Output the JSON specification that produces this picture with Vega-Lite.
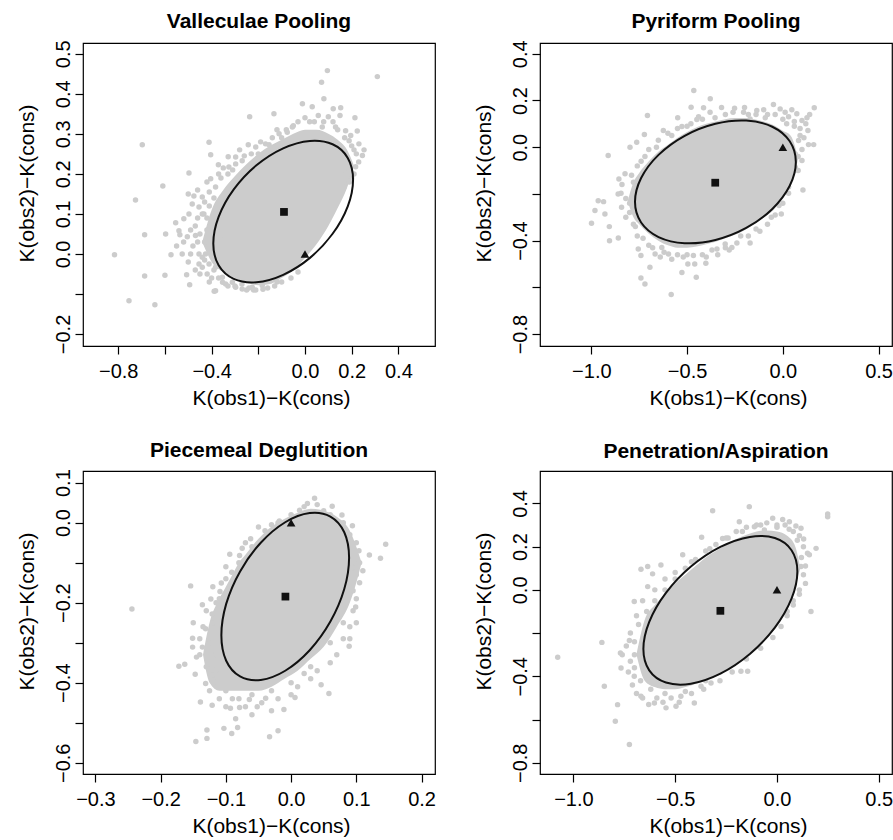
{
  "$schema": "https://vega.github.io/schema/vega-lite/v6.json",
  "background": "white",
  "padding": {"left": 15, "top": 10, "right": 5, "bottom": 0},
  "columns": 2,
  "spacing": {"row": 125, "column": 105},
  "bounds": "flush",
  "config": {
    "font": "Liberation Sans",
    "view": {"stroke": "#000000", "strokeWidth": 1.2},
    "axis": {"grid": false, "domain": false, "ticks": true, "tickColor": "#000000", "tickSize": 8, "tickWidth": 1.2,
      "labelColor": "#000000", "labelFont": "Liberation Sans", "labelFontSize": 20,
      "titleFont": "Liberation Sans", "titleFontSize": 21, "titleFontWeight": "normal", "titleColor": "#000000",
      "labelOverlap": false, "labelFlush": false, "labelBound": false},
    "axisX": {"labelBaseline": "alphabetic", "labelPadding": 23, "titleY": 58, "titleX": 188, "titleAlign": "center", "titleBaseline": "alphabetic"},
    "axisY": {"labelAngle": -90, "labelAlign": "center", "labelBaseline": "alphabetic", "labelPadding": 6, "titleX": -50, "titleY": 140, "titleAlign": "center", "titleBaseline": "alphabetic", "titleAngle": -90},
    "title": {"font": "Liberation Sans", "fontSize": 21, "fontWeight": "bold", "color": "#000000", "anchor": "middle", "frame": "group", "baseline": "alphabetic"}
  },
  "datasets": {
    "core1": [
      {"x": -0.44, "lo": 0.03, "hi": 0.03}, {"x": -0.40, "lo": -0.02, "hi": 0.11}, {"x": -0.35, "lo": -0.045, "hi": 0.16},
      {"x": -0.30, "lo": -0.06, "hi": 0.195}, {"x": -0.25, "lo": -0.072, "hi": 0.225}, {"x": -0.20, "lo": -0.078, "hi": 0.25},
      {"x": -0.15, "lo": -0.075, "hi": 0.27}, {"x": -0.10, "lo": -0.06, "hi": 0.285}, {"x": -0.05, "lo": -0.04, "hi": 0.30},
      {"x": 0.00, "lo": -0.01, "hi": 0.31}, {"x": 0.05, "lo": 0.025, "hi": 0.31}, {"x": 0.10, "lo": 0.07, "hi": 0.30},
      {"x": 0.14, "lo": 0.115, "hi": 0.285}, {"x": 0.18, "lo": 0.165, "hi": 0.26}, {"x": 0.21, "lo": 0.22, "hi": 0.22}
    ],
    "pts1": [
      {"x": -0.816, "y": -0.002}, {"x": -0.754, "y": -0.117}, {"x": -0.726, "y": 0.135}, {"x": -0.697, "y": 0.273}, {"x": -0.687, "y": 0.048},
      {"x": -0.687, "y": -0.055}, {"x": -0.643, "y": -0.127}, {"x": -0.609, "y": 0.17}, {"x": -0.6, "y": -0.053}, {"x": -0.597, "y": 0.05},
      {"x": -0.574, "y": -0.002}, {"x": -0.554, "y": 0.078}, {"x": -0.536, "y": 0.048}, {"x": -0.507, "y": -0.052}, {"x": -0.497, "y": 0.202},
      {"x": -0.494, "y": -0.077}, {"x": -0.476, "y": 0.145}, {"x": -0.469, "y": 0.046}, {"x": -0.44, "y": -0.033}, {"x": -0.433, "y": 0.1},
      {"x": -0.411, "y": 0.279}, {"x": -0.404, "y": 0.188}, {"x": -0.404, "y": 0.248}, {"x": -0.389, "y": -0.093}, {"x": -0.383, "y": 0.0},
      {"x": -0.243, "y": 0.273}, {"x": -0.237, "y": 0.343}, {"x": -0.133, "y": 0.35}, {"x": -0.2, "y": 0.25}, {"x": -0.25, "y": -0.09},
      {"x": -0.211, "y": -0.09}, {"x": -0.353, "y": -0.071}, {"x": -0.011, "y": 0.375}, {"x": 0.031, "y": 0.368}, {"x": 0.096, "y": 0.458},
      {"x": 0.071, "y": 0.429}, {"x": 0.081, "y": 0.388}, {"x": 0.121, "y": 0.363}, {"x": 0.153, "y": 0.365}, {"x": 0.15, "y": 0.346},
      {"x": 0.057, "y": 0.346}, {"x": 0.1, "y": 0.343}, {"x": 0.214, "y": 0.34}, {"x": 0.224, "y": 0.307}, {"x": 0.253, "y": 0.26},
      {"x": 0.246, "y": 0.246}, {"x": 0.231, "y": 0.275}, {"x": 0.31, "y": 0.443}, {"x": 0.217, "y": 0.218}, {"x": 0.167, "y": 0.167},
      {"x": 0.174, "y": 0.2}, {"x": -0.076, "y": 0.304}, {"x": -0.054, "y": 0.317}, {"x": -0.1, "y": 0.29}, {"x": -0.154, "y": 0.273},
      {"x": -0.297, "y": 0.242}, {"x": -0.329, "y": 0.243}, {"x": -0.371, "y": 0.223}, {"x": -0.44, "y": 0.142}, {"x": -0.454, "y": 0.117},
      {"x": -0.483, "y": 0.125}, {"x": -0.497, "y": 0.1}, {"x": -0.519, "y": 0.088}, {"x": -0.54, "y": 0.058}, {"x": -0.504, "y": 0.043},
      {"x": -0.526, "y": 0.0}, {"x": -0.49, "y": 0.0}, {"x": -0.454, "y": 0.0}, {"x": -0.426, "y": 0.0}, {"x": -0.44, "y": -0.008},
      {"x": -0.454, "y": -0.025}, {"x": -0.411, "y": -0.025}, {"x": -0.419, "y": -0.05}, {"x": -0.383, "y": -0.033}, {"x": -0.354, "y": -0.058},
      {"x": -0.311, "y": -0.071}, {"x": -0.297, "y": -0.083}, {"x": -0.269, "y": -0.0875}, {"x": -0.226, "y": -0.083}, {"x": -0.183, "y": -0.079},
      {"x": -0.147, "y": -0.067}, {"x": -0.383, "y": -0.092}, {"x": -0.361, "y": 0.046}, {"x": -0.354, "y": 0.117}, {"x": -0.383, "y": 0.167},
      {"x": -0.326, "y": 0.217}, {"x": -0.297, "y": 0.225}, {"x": -0.269, "y": 0.233}, {"x": -0.211, "y": 0.267}, {"x": -0.169, "y": 0.275},
      {"x": -0.111, "y": 0.3}, {"x": 0.189, "y": 0.283}, {"x": 0.196, "y": 0.296}, {"x": 0.174, "y": 0.308}, {"x": 0.131, "y": 0.317},
      {"x": 0.074, "y": 0.317}, {"x": -0.42, "y": 0.06}, {"x": -0.47, "y": 0.07}, {"x": -0.46, "y": 0.03}, {"x": -0.43, "y": 0.13},
      {"x": -0.41, "y": 0.155}, {"x": -0.36, "y": 0.19}, {"x": -0.33, "y": 0.2}, {"x": -0.26, "y": 0.245}, {"x": -0.12, "y": 0.31},
      {"x": -0.03, "y": 0.33}, {"x": 0.02, "y": 0.33}, {"x": 0.12, "y": 0.33}, {"x": 0.2, "y": 0.27}, {"x": 0.22, "y": 0.25},
      {"x": 0.19, "y": 0.21}, {"x": 0.2, "y": 0.19}, {"x": -0.33, "y": -0.08}, {"x": -0.24, "y": -0.085}, {"x": -0.16, "y": -0.085},
      {"x": -0.12, "y": -0.07}, {"x": -0.43, "y": -0.015}, {"x": -0.4, "y": -0.06}, {"x": -0.36, "y": -0.03}, {"x": -0.49, "y": 0.06},
      {"x": -0.55, "y": 0.02}, {"x": -0.52, "y": 0.03}, {"x": -0.5, "y": -0.02}, {"x": -0.48, "y": 0.02}, {"x": -0.47, "y": -0.04},
      {"x": -0.46, "y": 0.09}, {"x": -0.45, "y": 0.05}, {"x": -0.44, "y": 0.1}, {"x": -0.43, "y": 0.03}, {"x": -0.42, "y": 0.09},
      {"x": -0.41, "y": 0.12}, {"x": -0.5, "y": 0.15}, {"x": -0.46, "y": 0.16}, {"x": -0.42, "y": 0.18}, {"x": -0.39, "y": 0.14},
      {"x": -0.37, "y": 0.2}, {"x": -0.35, "y": 0.215}, {"x": -0.31, "y": 0.21}, {"x": -0.28, "y": 0.26}, {"x": -0.23, "y": 0.25},
      {"x": -0.19, "y": 0.28}, {"x": -0.14, "y": 0.29}, {"x": -0.08, "y": 0.31}, {"x": -0.05, "y": 0.32}, {"x": 0.0, "y": 0.34},
      {"x": 0.04, "y": 0.33}, {"x": 0.08, "y": 0.33}, {"x": 0.14, "y": 0.31}, {"x": 0.17, "y": 0.29}, {"x": 0.21, "y": 0.26},
      {"x": 0.23, "y": 0.23}, {"x": 0.21, "y": 0.2}, {"x": 0.19, "y": 0.18}, {"x": -0.41, "y": -0.07}, {"x": -0.37, "y": -0.06},
      {"x": -0.34, "y": -0.075}, {"x": -0.3, "y": -0.08}, {"x": -0.27, "y": -0.075}, {"x": -0.22, "y": -0.09}, {"x": -0.18, "y": -0.088},
      {"x": -0.13, "y": -0.08}, {"x": -0.1, "y": -0.07}, {"x": -0.06, "y": -0.06}, {"x": -0.03, "y": -0.045}, {"x": -0.39, "y": -0.04},
      {"x": -0.45, "y": -0.05}, {"x": -0.38, "y": 0.05}, {"x": -0.39, "y": 0.1}
    ],
    "ell1": [
      {"i": 0, "x": 0.2060, "y": 0.1856}, {"i": 1, "x": 0.1832, "y": 0.2400}, {"i": 2, "x": 0.1183, "y": 0.2740}, {"i": 3, "x": 0.0212, "y": 0.2824},
      {"i": 4, "x": -0.0934, "y": 0.2639}, {"i": 5, "x": -0.2080, "y": 0.2214}, {"i": 6, "x": -0.3051, "y": 0.1612}, {"i": 7, "x": -0.3700, "y": 0.0926},
      {"i": 8, "x": -0.3928, "y": 0.0260}, {"i": 9, "x": -0.3700, "y": -0.0284}, {"i": 10, "x": -0.3051, "y": -0.0624}, {"i": 11, "x": -0.2080, "y": -0.0708},
      {"i": 12, "x": -0.0934, "y": -0.0523}, {"i": 13, "x": 0.0212, "y": -0.0098}, {"i": 14, "x": 0.1183, "y": 0.0504}, {"i": 15, "x": 0.1832, "y": 0.1190}
    ],
    "mk1": [{"kind": "mean", "x": -0.09, "y": 0.105}, {"kind": "ref", "x": 0, "y": 0}],
    "core2": [
      {"x": -0.81, "lo": -0.23, "hi": -0.23}, {"x": -0.78, "lo": -0.3, "hi": -0.15}, {"x": -0.75, "lo": -0.33, "hi": -0.11}, {"x": -0.70, "lo": -0.37, "hi": -0.06},
      {"x": -0.65, "lo": -0.40, "hi": -0.02}, {"x": -0.60, "lo": -0.42, "hi": 0.01}, {"x": -0.55, "lo": -0.43, "hi": 0.04},
      {"x": -0.50, "lo": -0.43, "hi": 0.065}, {"x": -0.45, "lo": -0.425, "hi": 0.085}, {"x": -0.40, "lo": -0.415, "hi": 0.10},
      {"x": -0.35, "lo": -0.405, "hi": 0.11}, {"x": -0.30, "lo": -0.39, "hi": 0.12}, {"x": -0.25, "lo": -0.375, "hi": 0.125},
      {"x": -0.20, "lo": -0.355, "hi": 0.125}, {"x": -0.15, "lo": -0.33, "hi": 0.12}, {"x": -0.10, "lo": -0.30, "hi": 0.11},
      {"x": -0.05, "lo": -0.27, "hi": 0.095}, {"x": 0.00, "lo": -0.21, "hi": 0.07}, {"x": 0.04, "lo": -0.16, "hi": 0.05},
      {"x": 0.065, "lo": -0.1, "hi": 0.0}, {"x": 0.08, "lo": -0.05, "hi": -0.05}
    ],
    "pts2": [
      {"x": -0.999, "y": -0.326}, {"x": -0.981, "y": -0.271}, {"x": -0.964, "y": -0.229}, {"x": -0.936, "y": -0.233}, {"x": -0.929, "y": -0.286},
      {"x": -0.912, "y": -0.036}, {"x": -0.905, "y": -0.4}, {"x": -0.906, "y": -0.34}, {"x": -0.859, "y": -0.389}, {"x": -0.856, "y": -0.136},
      {"x": -0.845, "y": -0.197}, {"x": -0.824, "y": -0.114}, {"x": -0.842, "y": -0.257}, {"x": -0.798, "y": 0.0}, {"x": -0.763, "y": 0.021},
      {"x": -0.723, "y": 0.054}, {"x": -0.707, "y": 0.136}, {"x": -0.755, "y": -0.436}, {"x": -0.741, "y": -0.464}, {"x": -0.72, "y": -0.586},
      {"x": -0.741, "y": -0.56}, {"x": -0.694, "y": -0.514}, {"x": -0.667, "y": -0.457}, {"x": -0.632, "y": -0.429}, {"x": -0.597, "y": -0.457},
      {"x": -0.583, "y": -0.631}, {"x": -0.527, "y": -0.536}, {"x": -0.496, "y": -0.5}, {"x": -0.452, "y": -0.557}, {"x": -0.402, "y": -0.497},
      {"x": -0.467, "y": -0.464}, {"x": -0.344, "y": -0.436}, {"x": -0.301, "y": -0.414}, {"x": -0.266, "y": -0.429}, {"x": -0.171, "y": -0.41},
      {"x": -0.624, "y": 0.071}, {"x": -0.549, "y": 0.126}, {"x": -0.527, "y": 0.089}, {"x": -0.479, "y": 0.171}, {"x": -0.465, "y": 0.243},
      {"x": -0.449, "y": 0.119}, {"x": -0.414, "y": 0.169}, {"x": -0.379, "y": 0.207}, {"x": -0.354, "y": 0.126}, {"x": -0.252, "y": 0.167},
      {"x": -0.205, "y": 0.15}, {"x": -0.171, "y": 0.121}, {"x": -0.136, "y": 0.157}, {"x": -0.092, "y": 0.126}, {"x": -0.049, "y": 0.183},
      {"x": -0.014, "y": 0.164}, {"x": 0.012, "y": 0.15}, {"x": 0.047, "y": 0.16}, {"x": 0.073, "y": 0.143}, {"x": 0.1, "y": 0.114},
      {"x": 0.126, "y": 0.126}, {"x": 0.164, "y": 0.169}, {"x": 0.131, "y": 0.071}, {"x": 0.161, "y": 0.011}, {"x": 0.134, "y": 0.011},
      {"x": 0.1, "y": -0.057}, {"x": 0.065, "y": -0.086}, {"x": 0.105, "y": -0.183}, {"x": 0.03, "y": -0.197}, {"x": -0.008, "y": -0.286},
      {"x": 0.065, "y": -0.029}, {"x": 0.082, "y": 0.029}, {"x": -0.78, "y": -0.15}, {"x": -0.8, "y": -0.24}, {"x": -0.82, "y": -0.3},
      {"x": -0.78, "y": -0.33}, {"x": -0.76, "y": -0.38}, {"x": -0.7, "y": -0.42}, {"x": -0.62, "y": -0.45}, {"x": -0.55, "y": -0.46},
      {"x": -0.5, "y": -0.46}, {"x": -0.42, "y": -0.46}, {"x": -0.37, "y": -0.44}, {"x": -0.3, "y": -0.43}, {"x": -0.22, "y": -0.38},
      {"x": -0.14, "y": -0.35}, {"x": -0.06, "y": -0.3}, {"x": -0.02, "y": -0.25}, {"x": 0.04, "y": -0.12}, {"x": 0.08, "y": -0.04},
      {"x": 0.09, "y": 0.05}, {"x": 0.06, "y": 0.09}, {"x": 0.02, "y": 0.1}, {"x": -0.08, "y": 0.14}, {"x": -0.18, "y": 0.14},
      {"x": -0.3, "y": 0.14}, {"x": -0.42, "y": 0.12}, {"x": -0.5, "y": 0.09}, {"x": -0.58, "y": 0.05}, {"x": -0.66, "y": 0.0},
      {"x": -0.72, "y": -0.04}, {"x": -0.76, "y": -0.08},
      {"x": -0.86, "y": -0.2}, {"x": -0.84, "y": -0.16}, {"x": -0.82, "y": -0.22}, {"x": -0.8, "y": -0.28}, {"x": -0.79, "y": -0.12},
      {"x": -0.77, "y": -0.34}, {"x": -0.74, "y": -0.06}, {"x": -0.73, "y": -0.39}, {"x": -0.7, "y": -0.01}, {"x": -0.68, "y": -0.43},
      {"x": -0.65, "y": 0.03}, {"x": -0.64, "y": -0.47}, {"x": -0.6, "y": 0.06}, {"x": -0.58, "y": -0.48}, {"x": -0.55, "y": 0.08},
      {"x": -0.52, "y": -0.47}, {"x": -0.48, "y": 0.1}, {"x": -0.46, "y": -0.5}, {"x": -0.44, "y": 0.13}, {"x": -0.4, "y": -0.47},
      {"x": -0.38, "y": 0.15}, {"x": -0.34, "y": -0.46}, {"x": -0.32, "y": 0.17}, {"x": -0.28, "y": -0.44}, {"x": -0.26, "y": 0.15},
      {"x": -0.24, "y": -0.41}, {"x": -0.2, "y": 0.17}, {"x": -0.18, "y": -0.38}, {"x": -0.14, "y": 0.14}, {"x": -0.12, "y": -0.36},
      {"x": -0.1, "y": 0.16}, {"x": -0.08, "y": -0.33}, {"x": -0.04, "y": 0.14}, {"x": -0.04, "y": -0.29}, {"x": 0.0, "y": 0.12},
      {"x": 0.0, "y": -0.24}, {"x": 0.03, "y": 0.13}, {"x": 0.03, "y": -0.17}, {"x": 0.06, "y": 0.11}, {"x": 0.06, "y": -0.1},
      {"x": 0.09, "y": 0.08}, {"x": 0.1, "y": -0.01}, {"x": 0.11, "y": 0.04}, {"x": 0.12, "y": 0.1}, {"x": 0.14, "y": 0.14},
      {"x": 0.08, "y": -0.1}
    ],
    "ell2": [
      {"i": 0, "x": 0.068, "y": -0.0633}, {"i": 1, "x": 0.036, "y": 0.0254}, {"i": 2, "x": -0.055, "y": 0.0876}, {"i": 3, "x": -0.1913, "y": 0.1140},
      {"i": 4, "x": -0.352, "y": 0.1003}, {"i": 5, "x": -0.5127, "y": 0.0488}, {"i": 6, "x": -0.649, "y": -0.0328}, {"i": 7, "x": -0.740, "y": -0.1320},
      {"i": 8, "x": -0.772, "y": -0.2337}, {"i": 9, "x": -0.740, "y": -0.3224}, {"i": 10, "x": -0.649, "y": -0.3846}, {"i": 11, "x": -0.5127, "y": -0.4110},
      {"i": 12, "x": -0.352, "y": -0.3973}, {"i": 13, "x": -0.1913, "y": -0.3458}, {"i": 14, "x": -0.055, "y": -0.2642}, {"i": 15, "x": 0.036, "y": -0.1650}
    ],
    "mk2": [{"kind": "mean", "x": -0.353, "y": -0.152}, {"kind": "ref", "x": 0, "y": 0}],
    "core3": [
      {"x": -0.135, "lo": -0.33, "hi": -0.33}, {"x": -0.125, "lo": -0.40, "hi": -0.25}, {"x": -0.11, "lo": -0.42, "hi": -0.19},
      {"x": -0.10, "lo": -0.42, "hi": -0.16}, {"x": -0.09, "lo": -0.42, "hi": -0.13}, {"x": -0.08, "lo": -0.42, "hi": -0.10},
      {"x": -0.07, "lo": -0.42, "hi": -0.08}, {"x": -0.05, "lo": -0.42, "hi": -0.04}, {"x": -0.03, "lo": -0.41, "hi": -0.01},
      {"x": -0.01, "lo": -0.39, "hi": 0.01}, {"x": 0.01, "lo": -0.37, "hi": 0.025}, {"x": 0.03, "lo": -0.34, "hi": 0.035},
      {"x": 0.05, "lo": -0.31, "hi": 0.03}, {"x": 0.07, "lo": -0.26, "hi": 0.015}, {"x": 0.09, "lo": -0.20, "hi": -0.02},
      {"x": 0.10, "lo": -0.15, "hi": -0.06}, {"x": 0.108, "lo": -0.10, "hi": -0.10}
    ],
    "pts3": [
      {"x": -0.244, "y": -0.216}, {"x": -0.172, "y": -0.359}, {"x": -0.163, "y": -0.354}, {"x": -0.154, "y": -0.158}, {"x": -0.147, "y": -0.379},
      {"x": -0.146, "y": -0.547}, {"x": -0.136, "y": -0.205}, {"x": -0.139, "y": -0.448}, {"x": -0.129, "y": -0.518}, {"x": -0.129, "y": -0.539},
      {"x": -0.151, "y": -0.289}, {"x": -0.151, "y": -0.311}, {"x": -0.145, "y": -0.336}, {"x": -0.131, "y": -0.402}, {"x": -0.121, "y": -0.456},
      {"x": -0.113, "y": -0.398}, {"x": -0.103, "y": -0.514}, {"x": -0.091, "y": -0.527}, {"x": -0.082, "y": -0.512}, {"x": -0.093, "y": -0.464},
      {"x": -0.079, "y": -0.462}, {"x": -0.064, "y": -0.442}, {"x": -0.052, "y": -0.46}, {"x": -0.039, "y": -0.439}, {"x": -0.033, "y": -0.535},
      {"x": -0.02, "y": -0.52}, {"x": -0.011, "y": -0.467}, {"x": 0.006, "y": -0.437}, {"x": 0.02, "y": -0.377}, {"x": 0.046, "y": -0.405},
      {"x": 0.058, "y": -0.427}, {"x": 0.089, "y": -0.309}, {"x": 0.09, "y": -0.29}, {"x": 0.099, "y": -0.211}, {"x": 0.094, "y": -0.112},
      {"x": 0.104, "y": -0.07}, {"x": 0.12, "y": -0.081}, {"x": 0.137, "y": -0.089}, {"x": 0.145, "y": -0.054}, {"x": 0.094, "y": -0.008},
      {"x": 0.078, "y": 0.019}, {"x": 0.063, "y": 0.041}, {"x": 0.036, "y": 0.061}, {"x": 0.025, "y": 0.048}, {"x": 0.013, "y": 0.031},
      {"x": -0.018, "y": 0.004}, {"x": -0.05, "y": -0.011}, {"x": -0.062, "y": -0.04}, {"x": -0.075, "y": -0.064}, {"x": -0.079, "y": -0.082},
      {"x": -0.094, "y": -0.079}, {"x": -0.091, "y": -0.124}, {"x": -0.107, "y": -0.151}, {"x": -0.109, "y": -0.172}, {"x": -0.123, "y": -0.191},
      {"x": -0.121, "y": -0.228}, {"x": -0.131, "y": -0.265}, {"x": -0.136, "y": -0.311}, {"x": -0.116, "y": -0.369}, {"x": -0.12, "y": -0.25},
      {"x": -0.125, "y": -0.3}, {"x": -0.115, "y": -0.33}, {"x": -0.1, "y": -0.42}, {"x": -0.08, "y": -0.44}, {"x": -0.06, "y": -0.43},
      {"x": -0.03, "y": -0.42}, {"x": 0.0, "y": -0.4}, {"x": 0.03, "y": -0.36}, {"x": 0.06, "y": -0.3}, {"x": 0.08, "y": -0.25},
      {"x": 0.095, "y": -0.17}, {"x": 0.1, "y": -0.13}, {"x": 0.085, "y": -0.05}, {"x": 0.07, "y": -0.01}, {"x": 0.05, "y": 0.03},
      {"x": -0.03, "y": -0.005}, {"x": -0.07, "y": -0.05}, {"x": -0.1, "y": -0.11}, {"x": -0.115, "y": -0.2}, {"x": 0.105, "y": -0.1},
      {"x": 0.1, "y": -0.25},
      {"x": -0.15, "y": -0.25}, {"x": -0.14, "y": -0.29}, {"x": -0.14, "y": -0.33}, {"x": -0.13, "y": -0.36}, {"x": -0.13, "y": -0.22},
      {"x": -0.125, "y": -0.42}, {"x": -0.12, "y": -0.38}, {"x": -0.11, "y": -0.44}, {"x": -0.1, "y": -0.46}, {"x": -0.09, "y": -0.44},
      {"x": -0.085, "y": -0.49}, {"x": -0.07, "y": -0.46}, {"x": -0.06, "y": -0.48}, {"x": -0.045, "y": -0.45}, {"x": -0.03, "y": -0.47},
      {"x": -0.02, "y": -0.44}, {"x": 0.0, "y": -0.43}, {"x": 0.01, "y": -0.41}, {"x": 0.03, "y": -0.39}, {"x": 0.04, "y": -0.37},
      {"x": 0.06, "y": -0.35}, {"x": 0.07, "y": -0.33}, {"x": 0.08, "y": -0.29}, {"x": 0.09, "y": -0.26}, {"x": 0.095, "y": -0.22},
      {"x": 0.1, "y": -0.19}, {"x": 0.105, "y": -0.15}, {"x": 0.11, "y": -0.12}, {"x": 0.1, "y": -0.05}, {"x": 0.09, "y": -0.03},
      {"x": 0.08, "y": 0.0}, {"x": 0.06, "y": 0.02}, {"x": 0.04, "y": 0.045}, {"x": 0.02, "y": 0.04}, {"x": 0.0, "y": 0.02},
      {"x": -0.02, "y": 0.0}, {"x": -0.04, "y": -0.02}, {"x": -0.06, "y": -0.06}, {"x": -0.08, "y": -0.1}, {"x": -0.1, "y": -0.14},
      {"x": -0.11, "y": -0.19}, {"x": -0.12, "y": -0.16}, {"x": -0.135, "y": -0.26}
    ],
    "ell3": [
      {"i": 0, "x": 0.0889, "y": -0.0876}, {"i": 1, "x": 0.0815, "y": -0.0240}, {"i": 2, "x": 0.0602, "y": 0.0152}, {"i": 3, "x": 0.0285, "y": 0.0240},
      {"i": 4, "x": -0.009, "y": 0.0010}, {"i": 5, "x": -0.0465, "y": -0.0502}, {"i": 6, "x": -0.0782, "y": -0.1218}, {"i": 7, "x": -0.0995, "y": -0.2030},
      {"i": 8, "x": -0.1069, "y": -0.2814}, {"i": 9, "x": -0.0995, "y": -0.3450}, {"i": 10, "x": -0.0782, "y": -0.3842}, {"i": 11, "x": -0.0465, "y": -0.3930},
      {"i": 12, "x": -0.009, "y": -0.3700}, {"i": 13, "x": 0.0285, "y": -0.3188}, {"i": 14, "x": 0.0602, "y": -0.2472}, {"i": 15, "x": 0.0815, "y": -0.1660}
    ],
    "mk3": [{"kind": "mean", "x": -0.0087, "y": -0.1848}, {"kind": "ref", "x": 0, "y": 0}],
    "core4": [
      {"x": -0.69, "lo": -0.3, "hi": -0.3}, {"x": -0.65, "lo": -0.42, "hi": -0.14}, {"x": -0.60, "lo": -0.45, "hi": -0.07},
      {"x": -0.55, "lo": -0.46, "hi": -0.02}, {"x": -0.50, "lo": -0.46, "hi": 0.03}, {"x": -0.45, "lo": -0.45, "hi": 0.07},
      {"x": -0.40, "lo": -0.435, "hi": 0.11}, {"x": -0.35, "lo": -0.42, "hi": 0.15}, {"x": -0.30, "lo": -0.40, "hi": 0.18},
      {"x": -0.25, "lo": -0.375, "hi": 0.21}, {"x": -0.20, "lo": -0.34, "hi": 0.235}, {"x": -0.15, "lo": -0.31, "hi": 0.255},
      {"x": -0.10, "lo": -0.265, "hi": 0.27}, {"x": -0.05, "lo": -0.22, "hi": 0.275}, {"x": 0.00, "lo": -0.17, "hi": 0.27},
      {"x": 0.05, "lo": -0.085, "hi": 0.25}, {"x": 0.09, "lo": 0.02, "hi": 0.20}, {"x": 0.115, "lo": 0.1, "hi": 0.1}
    ],
    "pts4": [
      {"x": -1.077, "y": -0.312}, {"x": -0.86, "y": -0.243}, {"x": -0.848, "y": -0.446}, {"x": -0.794, "y": -0.608}, {"x": -0.783, "y": -0.531},
      {"x": -0.725, "y": -0.715}, {"x": -0.766, "y": -0.362}, {"x": -0.769, "y": -0.292}, {"x": -0.725, "y": -0.234}, {"x": -0.701, "y": -0.4},
      {"x": -0.668, "y": -0.492}, {"x": -0.602, "y": -0.523}, {"x": -0.545, "y": -0.546}, {"x": -0.496, "y": -0.538}, {"x": -0.472, "y": -0.492},
      {"x": -0.406, "y": -0.523}, {"x": -0.373, "y": -0.446}, {"x": -0.324, "y": -0.431}, {"x": -0.177, "y": -0.377}, {"x": -0.144, "y": -0.377},
      {"x": -0.668, "y": 0.095}, {"x": -0.635, "y": 0.108}, {"x": -0.611, "y": 0.074}, {"x": -0.57, "y": 0.115}, {"x": -0.701, "y": -0.054},
      {"x": -0.635, "y": 0.015}, {"x": -0.463, "y": 0.162}, {"x": -0.37, "y": 0.243}, {"x": -0.316, "y": 0.366}, {"x": -0.267, "y": 0.238},
      {"x": -0.185, "y": 0.315}, {"x": -0.136, "y": 0.385}, {"x": -0.111, "y": 0.292}, {"x": -0.062, "y": 0.277}, {"x": -0.021, "y": 0.331},
      {"x": 0.028, "y": 0.326}, {"x": 0.061, "y": 0.315}, {"x": 0.093, "y": 0.295}, {"x": 0.118, "y": 0.285}, {"x": 0.131, "y": 0.235},
      {"x": 0.159, "y": 0.162}, {"x": 0.192, "y": 0.192}, {"x": 0.249, "y": 0.351}, {"x": 0.249, "y": 0.338}, {"x": 0.167, "y": -0.1},
      {"x": 0.118, "y": 0.108}, {"x": -0.7, "y": -0.3}, {"x": -0.72, "y": -0.2}, {"x": -0.69, "y": -0.12}, {"x": -0.66, "y": -0.05},
      {"x": -0.6, "y": 0.0}, {"x": -0.55, "y": 0.05}, {"x": -0.5, "y": 0.08}, {"x": -0.42, "y": 0.13}, {"x": -0.33, "y": 0.19},
      {"x": -0.24, "y": 0.24}, {"x": -0.17, "y": 0.27}, {"x": -0.08, "y": 0.3}, {"x": 0.0, "y": 0.29}, {"x": 0.06, "y": 0.28},
      {"x": 0.1, "y": 0.23}, {"x": 0.12, "y": 0.15}, {"x": 0.13, "y": 0.07}, {"x": 0.11, "y": 0.0}, {"x": 0.08, "y": -0.05},
      {"x": 0.05, "y": -0.1}, {"x": -0.05, "y": -0.2}, {"x": -0.1, "y": -0.26}, {"x": -0.2, "y": -0.33}, {"x": -0.28, "y": -0.38},
      {"x": -0.35, "y": -0.42}, {"x": -0.45, "y": -0.47}, {"x": -0.55, "y": -0.48}, {"x": -0.62, "y": -0.46}, {"x": -0.67, "y": -0.42},
      {"x": -0.7, "y": -0.36},
      {"x": -0.76, "y": -0.3}, {"x": -0.74, "y": -0.26}, {"x": -0.73, "y": -0.38}, {"x": -0.72, "y": -0.33}, {"x": -0.71, "y": -0.44},
      {"x": -0.7, "y": -0.24}, {"x": -0.69, "y": -0.48}, {"x": -0.68, "y": -0.16}, {"x": -0.66, "y": -0.5}, {"x": -0.64, "y": -0.1},
      {"x": -0.63, "y": -0.53}, {"x": -0.6, "y": -0.05}, {"x": -0.59, "y": -0.5}, {"x": -0.56, "y": -0.52}, {"x": -0.55, "y": 0.0},
      {"x": -0.52, "y": -0.5}, {"x": -0.5, "y": 0.05}, {"x": -0.48, "y": -0.52}, {"x": -0.45, "y": 0.1}, {"x": -0.42, "y": -0.48},
      {"x": -0.4, "y": 0.14}, {"x": -0.36, "y": -0.46}, {"x": -0.35, "y": 0.18}, {"x": -0.3, "y": 0.21}, {"x": -0.28, "y": -0.42},
      {"x": -0.25, "y": 0.24}, {"x": -0.22, "y": -0.38}, {"x": -0.2, "y": 0.27}, {"x": -0.15, "y": 0.29}, {"x": -0.15, "y": -0.32},
      {"x": -0.1, "y": 0.3}, {"x": -0.08, "y": -0.27}, {"x": -0.05, "y": 0.31}, {"x": -0.02, "y": -0.22}, {"x": 0.0, "y": 0.3},
      {"x": 0.02, "y": -0.17}, {"x": 0.04, "y": 0.3}, {"x": 0.05, "y": -0.12}, {"x": 0.08, "y": 0.27}, {"x": 0.08, "y": -0.07},
      {"x": 0.11, "y": 0.25}, {"x": 0.11, "y": -0.02}, {"x": 0.13, "y": 0.2}, {"x": 0.14, "y": 0.11}, {"x": 0.14, "y": 0.03},
      {"x": 0.15, "y": 0.17}
    ],
    "ell4": [
      {"i": 0, "x": 0.1002, "y": 0.0849}, {"i": 1, "x": 0.0714, "y": 0.1834}, {"i": 2, "x": -0.0106, "y": 0.2397}, {"i": 3, "x": -0.1333, "y": 0.2451},
      {"i": 4, "x": -0.278, "y": 0.1987}, {"i": 5, "x": -0.4227, "y": 0.1077}, {"i": 6, "x": -0.5454, "y": -0.0141}, {"i": 7, "x": -0.6274, "y": -0.1482},
      {"i": 8, "x": -0.6562, "y": -0.2741}, {"i": 9, "x": -0.6274, "y": -0.3726}, {"i": 10, "x": -0.5454, "y": -0.4289}, {"i": 11, "x": -0.4227, "y": -0.4343},
      {"i": 12, "x": -0.278, "y": -0.3879}, {"i": 13, "x": -0.1333, "y": -0.2969}, {"i": 14, "x": -0.0106, "y": -0.1751}, {"i": 15, "x": 0.0714, "y": -0.0410}
    ],
    "mk4": [{"kind": "mean", "x": -0.278, "y": -0.097}, {"kind": "ref", "x": 0, "y": 0}]
  },
  "concat": [
    {
      "width": 352, "height": 303,
      "title": {"text": "Valleculae Pooling", "offset": 7.5},
      "layer": [
        {"data": {"name": "core1"}, "mark": {"type": "area", "color": "#cccccc", "interpolate": "monotone", "opacity": 1},
         "encoding": {
           "x": {"field": "x", "type": "quantitative", "title": "K(obs1)−K(cons)", "scale": {"domain": [-0.951, 0.557], "nice": false, "zero": false},
                 "axis": {"values": [-0.8, -0.6, -0.4, -0.2, 0, 0.2, 0.4], "format": ".1f", "labelExpr": "(abs(datum.value + 0.6) < 0.001 || abs(datum.value + 0.2) < 0.001) ? '' : datum.label"}},
           "y": {"field": "lo", "type": "quantitative", "title": "K(obs2)−K(cons)", "scale": {"domain": [-0.23, 0.527], "nice": false, "zero": false},
                 "axis": {"values": [-0.2, -0.1, 0, 0.1, 0.2, 0.3, 0.4, 0.5], "format": ".1f", "labelExpr": "abs(datum.value + 0.1) < 0.001 ? '' : datum.label"}},
           "y2": {"field": "hi"}}},
        {"data": {"name": "pts1"}, "mark": {"type": "circle", "size": 30, "color": "#cccccc", "opacity": 1},
         "encoding": {"x": {"field": "x", "type": "quantitative", "title": "K(obs1)−K(cons)"}, "y": {"field": "y", "type": "quantitative", "title": "K(obs2)−K(cons)"}}},
        {"data": {"name": "ell1"}, "mark": {"type": "line", "interpolate": "cardinal-closed", "color": "#111111", "strokeWidth": 2},
         "encoding": {"x": {"field": "x", "type": "quantitative", "title": "K(obs1)−K(cons)"}, "y": {"field": "y", "type": "quantitative", "title": "K(obs2)−K(cons)"}, "order": {"field": "i", "type": "quantitative"}}},
        {"data": {"name": "mk1"}, "transform": [{"filter": "datum.kind == 'mean'"}], "mark": {"type": "point", "shape": "square", "filled": true, "size": 60, "color": "#111111", "opacity": 1},
         "encoding": {"x": {"field": "x", "type": "quantitative", "title": "K(obs1)−K(cons)"}, "y": {"field": "y", "type": "quantitative", "title": "K(obs2)−K(cons)"}}},
        {"data": {"name": "mk1"}, "transform": [{"filter": "datum.kind == 'ref'"}], "mark": {"type": "point", "shape": "triangle-up", "filled": true, "size": 75, "color": "#111111", "opacity": 1},
         "encoding": {"x": {"field": "x", "type": "quantitative", "title": "K(obs1)−K(cons)"}, "y": {"field": "y", "type": "quantitative", "title": "K(obs2)−K(cons)"}}}
      ]
    },
    {
      "width": 352, "height": 303,
      "title": {"text": "Pyriform Pooling", "offset": 7.5},
      "layer": [
        {"data": {"name": "core2"}, "mark": {"type": "area", "color": "#cccccc", "interpolate": "monotone", "opacity": 1},
         "encoding": {
           "x": {"field": "x", "type": "quantitative", "title": "K(obs1)−K(cons)", "scale": {"domain": [-1.268, 0.57], "nice": false, "zero": false},
                 "axis": {"values": [-1, -0.5, 0, 0.5], "format": ".1f"}},
           "y": {"field": "lo", "type": "quantitative", "title": "K(obs2)−K(cons)", "scale": {"domain": [-0.851, 0.446], "nice": false, "zero": false},
                 "axis": {"values": [-0.8, -0.6, -0.4, -0.2, 0, 0.2, 0.4], "format": ".1f", "labelExpr": "(abs(datum.value + 0.6) < 0.001 || abs(datum.value + 0.2) < 0.001) ? '' : datum.label"}},
           "y2": {"field": "hi"}}},
        {"data": {"name": "pts2"}, "mark": {"type": "circle", "size": 30, "color": "#cccccc", "opacity": 1},
         "encoding": {"x": {"field": "x", "type": "quantitative", "title": "K(obs1)−K(cons)"}, "y": {"field": "y", "type": "quantitative", "title": "K(obs2)−K(cons)"}}},
        {"data": {"name": "ell2"}, "mark": {"type": "line", "interpolate": "cardinal-closed", "color": "#111111", "strokeWidth": 2},
         "encoding": {"x": {"field": "x", "type": "quantitative", "title": "K(obs1)−K(cons)"}, "y": {"field": "y", "type": "quantitative", "title": "K(obs2)−K(cons)"}, "order": {"field": "i", "type": "quantitative"}}},
        {"data": {"name": "mk2"}, "transform": [{"filter": "datum.kind == 'mean'"}], "mark": {"type": "point", "shape": "square", "filled": true, "size": 60, "color": "#111111", "opacity": 1},
         "encoding": {"x": {"field": "x", "type": "quantitative", "title": "K(obs1)−K(cons)"}, "y": {"field": "y", "type": "quantitative", "title": "K(obs2)−K(cons)"}}},
        {"data": {"name": "mk2"}, "transform": [{"filter": "datum.kind == 'ref'"}], "mark": {"type": "point", "shape": "triangle-up", "filled": true, "size": 75, "color": "#111111", "opacity": 1},
         "encoding": {"x": {"field": "x", "type": "quantitative", "title": "K(obs1)−K(cons)"}, "y": {"field": "y", "type": "quantitative", "title": "K(obs2)−K(cons)"}}}
      ]
    },
    {
      "width": 352, "height": 303,
      "title": {"text": "Piecemeal Deglutition", "offset": 7.5},
      "layer": [
        {"data": {"name": "core3"}, "mark": {"type": "area", "color": "#cccccc", "interpolate": "monotone", "opacity": 1},
         "encoding": {
           "x": {"field": "x", "type": "quantitative", "title": "K(obs1)−K(cons)", "scale": {"domain": [-0.319, 0.2206], "nice": false, "zero": false},
                 "axis": {"values": [-0.3, -0.2, -0.1, 0, 0.1, 0.2], "format": ".1f"}},
           "y": {"field": "lo", "type": "quantitative", "title": "K(obs2)−K(cons)", "scale": {"domain": [-0.628, 0.129], "nice": false, "zero": false},
                 "axis": {"values": [-0.6, -0.5, -0.4, -0.3, -0.2, -0.1, 0, 0.1], "format": ".1f", "labelExpr": "(abs(datum.value + 0.5) < 0.001 || abs(datum.value + 0.3) < 0.001 || abs(datum.value + 0.1) < 0.001) ? '' : datum.label"}},
           "y2": {"field": "hi"}}},
        {"data": {"name": "pts3"}, "mark": {"type": "circle", "size": 30, "color": "#cccccc", "opacity": 1},
         "encoding": {"x": {"field": "x", "type": "quantitative", "title": "K(obs1)−K(cons)"}, "y": {"field": "y", "type": "quantitative", "title": "K(obs2)−K(cons)"}}},
        {"data": {"name": "ell3"}, "mark": {"type": "line", "interpolate": "cardinal-closed", "color": "#111111", "strokeWidth": 2},
         "encoding": {"x": {"field": "x", "type": "quantitative", "title": "K(obs1)−K(cons)"}, "y": {"field": "y", "type": "quantitative", "title": "K(obs2)−K(cons)"}, "order": {"field": "i", "type": "quantitative"}}},
        {"data": {"name": "mk3"}, "transform": [{"filter": "datum.kind == 'mean'"}], "mark": {"type": "point", "shape": "square", "filled": true, "size": 60, "color": "#111111", "opacity": 1},
         "encoding": {"x": {"field": "x", "type": "quantitative", "title": "K(obs1)−K(cons)"}, "y": {"field": "y", "type": "quantitative", "title": "K(obs2)−K(cons)"}}},
        {"data": {"name": "mk3"}, "transform": [{"filter": "datum.kind == 'ref'"}], "mark": {"type": "point", "shape": "triangle-up", "filled": true, "size": 75, "color": "#111111", "opacity": 1},
         "encoding": {"x": {"field": "x", "type": "quantitative", "title": "K(obs1)−K(cons)"}, "y": {"field": "y", "type": "quantitative", "title": "K(obs2)−K(cons)"}}}
      ]
    },
    {
      "width": 352, "height": 303,
      "title": {"text": "Penetration/Aspiration", "offset": 9.5},
      "layer": [
        {"data": {"name": "core4"}, "mark": {"type": "area", "color": "#cccccc", "interpolate": "monotone", "opacity": 1},
         "encoding": {
           "x": {"field": "x", "type": "quantitative", "title": "K(obs1)−K(cons)", "scale": {"domain": [-1.164, 0.565], "nice": false, "zero": false},
                 "axis": {"values": [-1, -0.5, 0, 0.5], "format": ".1f"}},
           "y": {"field": "lo", "type": "quantitative", "title": "K(obs2)−K(cons)", "scale": {"domain": [-0.852, 0.55], "nice": false, "zero": false},
                 "axis": {"values": [-0.8, -0.6, -0.4, -0.2, 0, 0.2, 0.4], "format": ".1f", "labelExpr": "(abs(datum.value + 0.6) < 0.001 || abs(datum.value + 0.2) < 0.001) ? '' : datum.label"}},
           "y2": {"field": "hi"}}},
        {"data": {"name": "pts4"}, "mark": {"type": "circle", "size": 30, "color": "#cccccc", "opacity": 1},
         "encoding": {"x": {"field": "x", "type": "quantitative", "title": "K(obs1)−K(cons)"}, "y": {"field": "y", "type": "quantitative", "title": "K(obs2)−K(cons)"}}},
        {"data": {"name": "ell4"}, "mark": {"type": "line", "interpolate": "cardinal-closed", "color": "#111111", "strokeWidth": 2},
         "encoding": {"x": {"field": "x", "type": "quantitative", "title": "K(obs1)−K(cons)"}, "y": {"field": "y", "type": "quantitative", "title": "K(obs2)−K(cons)"}, "order": {"field": "i", "type": "quantitative"}}},
        {"data": {"name": "mk4"}, "transform": [{"filter": "datum.kind == 'mean'"}], "mark": {"type": "point", "shape": "square", "filled": true, "size": 60, "color": "#111111", "opacity": 1},
         "encoding": {"x": {"field": "x", "type": "quantitative", "title": "K(obs1)−K(cons)"}, "y": {"field": "y", "type": "quantitative", "title": "K(obs2)−K(cons)"}}},
        {"data": {"name": "mk4"}, "transform": [{"filter": "datum.kind == 'ref'"}], "mark": {"type": "point", "shape": "triangle-up", "filled": true, "size": 75, "color": "#111111", "opacity": 1},
         "encoding": {"x": {"field": "x", "type": "quantitative", "title": "K(obs1)−K(cons)"}, "y": {"field": "y", "type": "quantitative", "title": "K(obs2)−K(cons)"}}}
      ]
    }
  ]
}
